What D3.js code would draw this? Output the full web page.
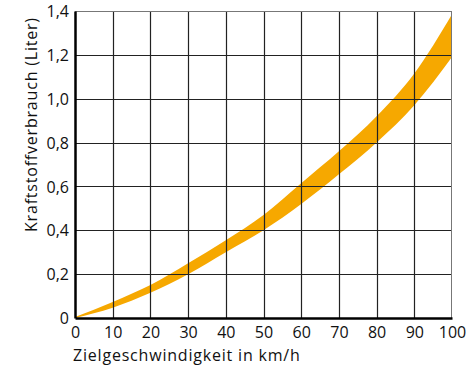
<!DOCTYPE html>
<html>
<head>
<meta charset="utf-8">
<script src="https://cdn.jsdelivr.net/npm/d3@7"></script>
<style>
    body { margin: 0; background: #fff; }
    text { font-family: "Open Sans", sans-serif; fill: #111; }
</style>
</head>
<body>
<div id="chart"></div>
<script>
// speed in km/h
let speeds = [0, 10, 20, 30, 40, 50, 60, 70, 80, 90, 100];
// band of fuel use (litres)
let upperVals = [0.004, 0.073, 0.15, 0.25, 0.355, 0.47, 0.615, 0.76, 0.92, 1.115, 1.385];
let lowerVals = [0, 0.047, 0.115, 0.20, 0.30, 0.40, 0.52, 0.655, 0.80, 0.97, 1.19];

let xTicks = [0, 10, 20, 30, 40, 50, 60, 70, 80, 90, 100];
let yTicks = [0, 0.2, 0.4, 0.6, 0.8, 1.0, 1.2, 1.4];

let margin = {top: 11, right: 24, bottom: 49, left: 75};
let width = 476 - margin.left - margin.right;
let height = 367 - margin.top - margin.bottom;

let svg = d3.select("#chart").append("svg")
    .attr("width", 476)
    .attr("height", 367)
    .append("g")
    .attr("transform", "translate(" + margin.left + "," + margin.top + ")");

let x = d3.scaleLinear().domain([0, 100]).range([0, width]);
let y = d3.scaleLinear().domain([0, 1.4]).range([height, 0]);

let bandData = speeds.map((s, i) => ({s: s, lo: lowerVals[i], hi: upperVals[i]}));

// orange band
let area = d3.area()
    .curve(d3.curveMonotoneX)
    .x(d => x(d.s))
    .y0(d => y(d.lo))
    .y1(d => y(d.hi));

svg.append("path")
    .datum(bandData)
    .attr("fill", "#f6a800")
    .attr("d", area);

// grid on top of the band
svg.append("g")
    .selectAll("line")
    .data(xTicks.filter(t => t > 0 && t < 100))
    .join("line")
    .attr("x1", d => Math.round(x(d)) + 0.5)
    .attr("x2", d => Math.round(x(d)) + 0.5)
    .attr("y1", 0)
    .attr("y2", height)
    .attr("stroke", "#222")
    .attr("stroke-width", 1.2);

svg.append("g")
    .selectAll("line")
    .data(yTicks.filter(t => t > 0 && t < 1.4))
    .join("line")
    .attr("x1", 0)
    .attr("x2", width)
    .attr("y1", d => Math.round(y(d)) + 0.5)
    .attr("y2", d => Math.round(y(d)) + 0.5)
    .attr("stroke", "#222")
    .attr("stroke-width", 1.2);

// top and right frame (lighter)
svg.append("line")
    .attr("x1", 0).attr("x2", width)
    .attr("y1", 0.5).attr("y2", 0.5)
    .attr("stroke", "#777");
svg.append("line")
    .attr("x1", width - 0.5).attr("x2", width - 0.5)
    .attr("y1", 0).attr("y2", height)
    .attr("stroke", "#777");

// axes
let xAxis = d3.axisBottom(x).tickValues(xTicks).tickSize(0).tickPadding(7)
    .tickFormat(d3.format("d"));
let yAxis = d3.axisLeft(y).tickValues(yTicks).tickSize(0).tickPadding(6)
    .tickFormat(d => d === 0 ? "0" : d3.format(".1f")(d).replace(".", ","));

let gx = svg.append("g")
    .attr("transform", "translate(0," + height + ")")
    .call(xAxis);
let gy = svg.append("g").call(yAxis);

gx.select(".domain").attr("stroke", "#000").attr("stroke-width", 2.5);
gy.select(".domain").attr("stroke", "#000").attr("stroke-width", 2.5);
svg.selectAll(".tick text")
    .attr("font-size", 16)
    .attr("font-family", "Open Sans, sans-serif")
    .attr("fill", "#111");
gx.selectAll(".tick text").attr("dy", "0.8em");
gy.selectAll(".tick text").attr("dy", "0.35em");

// axis titles
svg.append("text")
    .attr("x", -2)
    .attr("y", height + 43)
    .attr("font-size", 16)
    .attr("letter-spacing", 0.8)
    .text("Zielgeschwindigkeit in km/h");

svg.append("text")
    .attr("transform", "rotate(-90)")
    .attr("x", -(232 - margin.top))
    .attr("y", 37 - margin.left)
    .attr("font-size", 16)
    .attr("letter-spacing", 0.8)
    .text("Kraftstoffverbrauch (Liter)");
</script>
</body>
</html>
